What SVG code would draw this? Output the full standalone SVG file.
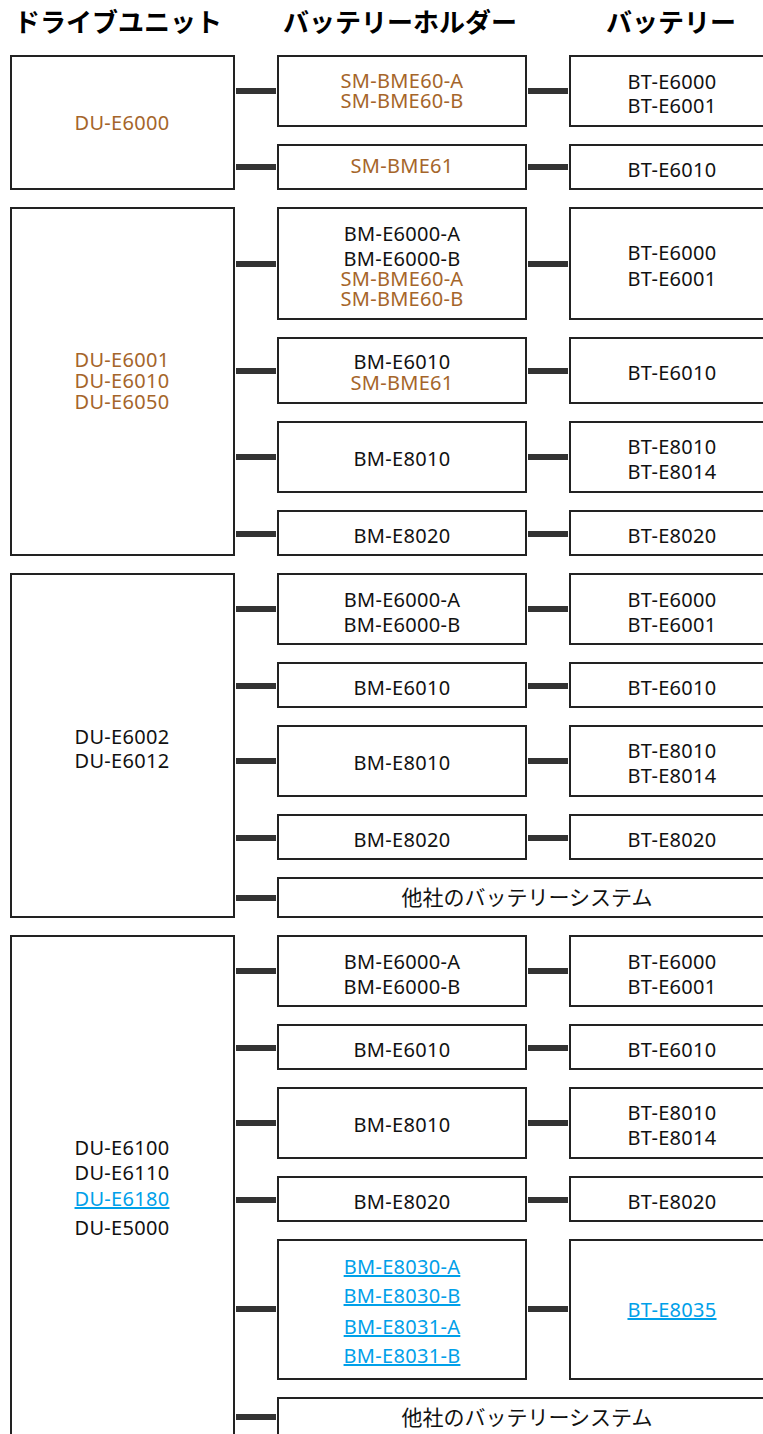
<svg xmlns="http://www.w3.org/2000/svg" width="763" height="1434" viewBox="0 0 763 1434">
<style>
.box{fill:#fff;stroke:#222;stroke-width:2}
.c{fill:#333}
text{font-family:"Noto Sans","Noto Sans CJK JP",sans-serif;font-size:20px;letter-spacing:0.3px;text-anchor:middle;fill:#111}
.h{font-size:26px;font-weight:bold;fill:#000;letter-spacing:0}
.br{fill:#a5652a}
.bl{fill:#00a0e9;text-decoration:underline}
.jp{font-size:21px;letter-spacing:0}
</style>
<rect width="763" height="1434" fill="#fff"/>
<g id="headers">
<text class="h" x="118" y="32">ドライブユニット</text>
<text class="h" x="400" y="32">バッテリーホルダー</text>
<text class="h" x="671" y="32">バッテリー</text>
</g>
<g id="connectors">
<rect class="c" x="236" y="88" width="40" height="6"/><rect class="c" x="528" y="88" width="40" height="6"/>
<rect class="c" x="236" y="164" width="40" height="6"/><rect class="c" x="528" y="164" width="40" height="6"/>
<rect class="c" x="236" y="261" width="40" height="6"/><rect class="c" x="528" y="261" width="40" height="6"/>
<rect class="c" x="236" y="368" width="40" height="6"/><rect class="c" x="528" y="368" width="40" height="6"/>
<rect class="c" x="236" y="454" width="40" height="6"/><rect class="c" x="528" y="454" width="40" height="6"/>
<rect class="c" x="236" y="531" width="40" height="6"/><rect class="c" x="528" y="531" width="40" height="6"/>
<rect class="c" x="236" y="606" width="40" height="6"/><rect class="c" x="528" y="606" width="40" height="6"/>
<rect class="c" x="236" y="683" width="40" height="6"/><rect class="c" x="528" y="683" width="40" height="6"/>
<rect class="c" x="236" y="758" width="40" height="6"/><rect class="c" x="528" y="758" width="40" height="6"/>
<rect class="c" x="236" y="835" width="40" height="6"/><rect class="c" x="528" y="835" width="40" height="6"/>
<rect class="c" x="236" y="895" width="40" height="6"/>
<rect class="c" x="236" y="968" width="40" height="6"/><rect class="c" x="528" y="968" width="40" height="6"/>
<rect class="c" x="236" y="1045" width="40" height="6"/><rect class="c" x="528" y="1045" width="40" height="6"/>
<rect class="c" x="236" y="1120" width="40" height="6"/><rect class="c" x="528" y="1120" width="40" height="6"/>
<rect class="c" x="236" y="1197" width="40" height="6"/><rect class="c" x="528" y="1197" width="40" height="6"/>
<rect class="c" x="236" y="1306" width="40" height="6"/><rect class="c" x="528" y="1306" width="40" height="6"/>
<rect class="c" x="236" y="1414" width="40" height="6"/>
</g>
<!-- Block 1 -->
<g id="du1"><rect class="box" x="11" y="56" width="223" height="133"/><text class="br" x="122" y="130">DU-E6000</text></g>
<g id="h1a"><rect class="box" x="278" y="56" width="248" height="70"/><text class="br" x="402" y="88">SM-BME60-A</text><text class="br" x="402" y="108">SM-BME60-B</text></g>
<g id="h1b"><rect class="box" x="278" y="145" width="248" height="44"/><text class="br" x="402" y="173">SM-BME61</text></g>
<g id="b1a"><rect class="box" x="570" y="56" width="200" height="70"/><text x="672" y="89">BT-E6000</text><text x="672" y="113">BT-E6001</text></g>
<g id="b1b"><rect class="box" x="570" y="145" width="200" height="44"/><text x="672" y="177">BT-E6010</text></g>
<!-- Block 2 -->
<g id="du2"><rect class="box" x="11" y="208" width="223" height="347"/><text class="br" x="122" y="367">DU-E6001</text><text class="br" x="122" y="388">DU-E6010</text><text class="br" x="122" y="409">DU-E6050</text></g>
<g id="h2a"><rect class="box" x="278" y="208" width="248" height="111"/><text x="402" y="241">BM-E6000-A</text><text x="402" y="266">BM-E6000-B</text><text class="br" x="402" y="286">SM-BME60-A</text><text class="br" x="402" y="306">SM-BME60-B</text></g>
<g id="h2b"><rect class="box" x="278" y="338" width="248" height="65"/><text x="402" y="369">BM-E6010</text><text class="br" x="402" y="390">SM-BME61</text></g>
<g id="h2c"><rect class="box" x="278" y="422" width="248" height="70"/><text x="402" y="466">BM-E8010</text></g>
<g id="h2d"><rect class="box" x="278" y="511" width="248" height="44"/><text x="402" y="543">BM-E8020</text></g>
<g id="b2a"><rect class="box" x="570" y="208" width="200" height="111"/><text x="672" y="260">BT-E6000</text><text x="672" y="286">BT-E6001</text></g>
<g id="b2b"><rect class="box" x="570" y="338" width="200" height="65"/><text x="672" y="380">BT-E6010</text></g>
<g id="b2c"><rect class="box" x="570" y="422" width="200" height="70"/><text x="672" y="454">BT-E8010</text><text x="672" y="479">BT-E8014</text></g>
<g id="b2d"><rect class="box" x="570" y="511" width="200" height="44"/><text x="672" y="543">BT-E8020</text></g>
<!-- Block 3 -->
<g id="du3"><rect class="box" x="11" y="574" width="223" height="343"/><text x="122" y="744">DU-E6002</text><text x="122" y="768">DU-E6012</text></g>
<g id="h3a"><rect class="box" x="278" y="574" width="248" height="70"/><text x="402" y="607">BM-E6000-A</text><text x="402" y="632">BM-E6000-B</text></g>
<g id="h3b"><rect class="box" x="278" y="663" width="248" height="44"/><text x="402" y="695">BM-E6010</text></g>
<g id="h3c"><rect class="box" x="278" y="726" width="248" height="70"/><text x="402" y="770">BM-E8010</text></g>
<g id="h3d"><rect class="box" x="278" y="815" width="248" height="44"/><text x="402" y="847">BM-E8020</text></g>
<g id="h3e"><rect class="box" x="278" y="878" width="492" height="39"/><text class="jp" x="527" y="905">他社のバッテリーシステム</text></g>
<g id="b3a"><rect class="box" x="570" y="574" width="200" height="70"/><text x="672" y="607">BT-E6000</text><text x="672" y="632">BT-E6001</text></g>
<g id="b3b"><rect class="box" x="570" y="663" width="200" height="44"/><text x="672" y="695">BT-E6010</text></g>
<g id="b3c"><rect class="box" x="570" y="726" width="200" height="70"/><text x="672" y="758">BT-E8010</text><text x="672" y="783">BT-E8014</text></g>
<g id="b3d"><rect class="box" x="570" y="815" width="200" height="44"/><text x="672" y="847">BT-E8020</text></g>
<!-- Block 4 -->
<g id="du4"><rect class="box" x="11" y="936" width="223" height="520"/><text x="122" y="1155">DU-E6100</text><text x="122" y="1180">DU-E6110</text><text class="bl" x="122" y="1206">DU-E6180</text><text x="122" y="1235">DU-E5000</text></g>
<g id="h4a"><rect class="box" x="278" y="936" width="248" height="70"/><text x="402" y="969">BM-E6000-A</text><text x="402" y="994">BM-E6000-B</text></g>
<g id="h4b"><rect class="box" x="278" y="1025" width="248" height="44"/><text x="402" y="1057">BM-E6010</text></g>
<g id="h4c"><rect class="box" x="278" y="1088" width="248" height="70"/><text x="402" y="1132">BM-E8010</text></g>
<g id="h4d"><rect class="box" x="278" y="1177" width="248" height="44"/><text x="402" y="1209">BM-E8020</text></g>
<g id="h4e"><rect class="box" x="278" y="1240" width="248" height="139"/><text class="bl" x="402" y="1274">BM-E8030-A</text><text class="bl" x="402" y="1303">BM-E8030-B</text><text class="bl" x="402" y="1334">BM-E8031-A</text><text class="bl" x="402" y="1363">BM-E8031-B</text></g>
<g id="h4f"><rect class="box" x="278" y="1398" width="492" height="60"/><text class="jp" x="527" y="1425">他社のバッテリーシステム</text></g>
<g id="b4a"><rect class="box" x="570" y="936" width="200" height="70"/><text x="672" y="969">BT-E6000</text><text x="672" y="994">BT-E6001</text></g>
<g id="b4b"><rect class="box" x="570" y="1025" width="200" height="44"/><text x="672" y="1057">BT-E6010</text></g>
<g id="b4c"><rect class="box" x="570" y="1088" width="200" height="70"/><text x="672" y="1120">BT-E8010</text><text x="672" y="1145">BT-E8014</text></g>
<g id="b4d"><rect class="box" x="570" y="1177" width="200" height="44"/><text x="672" y="1209">BT-E8020</text></g>
<g id="b4e"><rect class="box" x="570" y="1240" width="200" height="139"/><text class="bl" x="672" y="1317">BT-E8035</text></g>
</svg>
